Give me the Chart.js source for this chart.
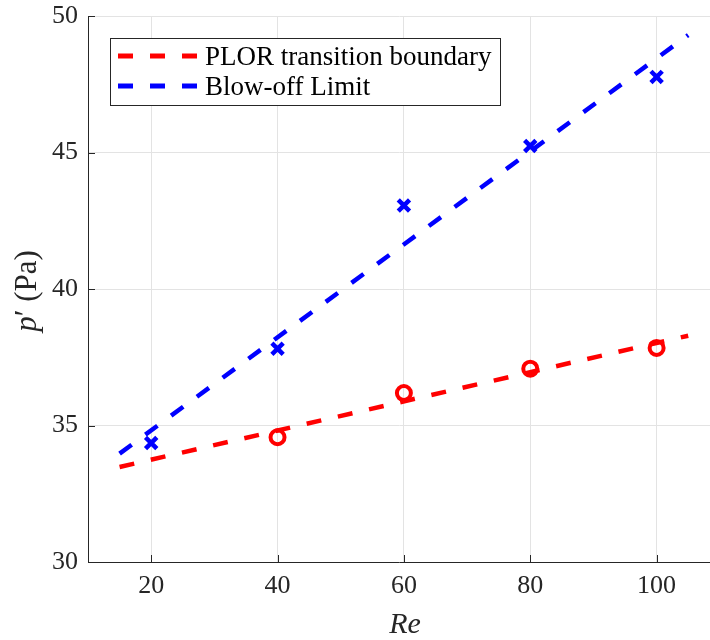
<!DOCTYPE html>
<html>
<head>
<meta charset="utf-8">
<script src="https://cdn.jsdelivr.net/npm/chart.js@4"></script>
<style>
html,body{margin:0;padding:0;background:#fff;}
#wrap{width:710px;height:640px;}
</style>
</head>
<body>
<div id="wrap"><canvas id="c" width="710" height="640"></canvas></div>
<script>
// ---- data ----
const blowRe = [20, 40, 60, 80, 100];
const blowValues = [34.36, 37.81, 43.06, 45.24, 47.77];
const plorRe = [40, 60, 80, 100];
const plorValues = [34.57, 36.19, 37.08, 37.84];
const fitRe = [15, 105];
const plorFit = [33.48, 38.29];
const blowFit = [33.97, 49.30];
const xTicks = [20, 40, 60, 80, 100];
const yTicks = [30, 35, 40, 45, 50];
const seriesLabels = ['PLOR transition boundary', 'Blow-off Limit'];
const xTitle = 'Re';

const SERIF = '"Liberation Serif", "DejaVu Serif", serif';
const AXIS = '#262626';
const RED = '#ff0000';
const BLUE = '#0000ff';

const toPts = (xs, ys) => xs.map((x, i) => ({x: x, y: ys[i]}));

const decor = {
  id: 'decor',
  afterDraw(chart) {
    const ctx = chart.ctx;
    const a = chart.chartArea;
    const xs = chart.scales.x, ys = chart.scales.y;
    ctx.save();
    // inward ticks
    ctx.strokeStyle = AXIS;
    ctx.lineWidth = 1;
    ctx.beginPath();
    yTicks.forEach(v => {
      const y = Math.round(ys.getPixelForValue(v)) + 0.5;
      ctx.moveTo(a.left, y); ctx.lineTo(a.left + 7, y);
    });
    xTicks.forEach(v => {
      const x = Math.round(xs.getPixelForValue(v)) + 0.5;
      ctx.moveTo(x, a.bottom); ctx.lineTo(x, a.bottom - 7);
    });
    ctx.stroke();

    // legend
    const lx = 110.5, ly = 38.5, lw = 390, lh = 67;
    ctx.fillStyle = '#fff';
    ctx.fillRect(lx, ly, lw, lh);
    ctx.strokeStyle = AXIS;
    ctx.lineWidth = 1;
    ctx.strokeRect(lx, ly, lw, lh);
    const rows = [{c: RED, t: seriesLabels[0], y: 56}, {c: BLUE, t: seriesLabels[1], y: 86}];
    rows.forEach(r => {
      ctx.save();
      ctx.strokeStyle = r.c;
      ctx.lineWidth = 5;
      ctx.setLineDash([15, 17]);
      ctx.lineCap = 'butt';
      ctx.beginPath();
      ctx.moveTo(118, r.y); ctx.lineTo(198, r.y);
      ctx.stroke();
      ctx.restore();
      ctx.fillStyle = '#000';
      ctx.font = '27px ' + SERIF;
      ctx.textBaseline = 'alphabetic';
      ctx.textAlign = 'left';
      ctx.fillText(r.t, 205, r.y + 8.5);
    });

    // x title
    ctx.fillStyle = '#262626';
    ctx.font = 'italic 30px ' + SERIF;
    ctx.textAlign = 'center';
    ctx.textBaseline = 'alphabetic';
    ctx.fillText(xTitle, 405, 633);

    // y title: p′ (Pa)
    ctx.save();
    ctx.translate(36, 291);
    ctx.rotate(-Math.PI / 2);
    const f1 = 'italic 31px ' + SERIF, f2 = '31px ' + SERIF;
    ctx.font = f1; const wp = ctx.measureText('p').width;
    ctx.font = f2; const wq = ctx.measureText('\u2032').width;
    const wr = ctx.measureText(' (Pa)').width;
    let x0 = -(wp + wq + wr) / 2;
    ctx.textAlign = 'left';
    ctx.textBaseline = 'alphabetic';
    ctx.font = f1; ctx.fillText('p', x0, 0); x0 += wp;
    ctx.font = f2; ctx.fillText('\u2032', x0, 0); x0 += wq;
    ctx.fillText(' (Pa)', x0, 0);
    ctx.restore();
    ctx.restore();
  }
};

new Chart(document.getElementById('c'), {
  type: 'scatter',
  data: {
    datasets: [
      { label: 'plorPts', data: toPts(plorRe, plorValues), pointStyle: 'circle', pointRadius: 7,
        borderColor: RED, backgroundColor: 'rgba(0,0,0,0)', pointBorderWidth: 4, order: 0 },
      { label: 'blowPts', data: toPts(blowRe, blowValues), pointStyle: 'crossRot', pointRadius: 8,
        borderColor: BLUE, backgroundColor: BLUE, pointBorderWidth: 4.5, order: 0 },
      { label: seriesLabels[0], data: toPts(fitRe, plorFit), showLine: true, pointRadius: 0,
        borderColor: RED, borderWidth: 4.5, borderDash: [15, 17], order: 1 },
      { label: seriesLabels[1], data: toPts(fitRe, blowFit), showLine: true, pointRadius: 0,
        borderColor: BLUE, borderWidth: 4.5, borderDash: [15, 17], order: 1 }
    ]
  },
  options: {
    responsive: false,
    animation: false,
    events: [],
    layout: { autoPadding: false, padding: { top: 16, left: 0, right: 0, bottom: 0 } },
    plugins: { legend: { display: false }, tooltip: { enabled: false } },
    scales: {
      x: {
        type: 'linear', min: 10, max: 108.45,
        afterBuildTicks: s => { s.ticks = xTicks.map(v => ({value: v})); },
        afterFit: s => { s.height = 78; s.paddingLeft = 0; s.paddingRight = 0; },
        grid: { color: '#e3e3e3', drawTicks: false, lineWidth: 1 },
        border: { display: true, color: AXIS, width: 1 },
        ticks: { color: AXIS, font: { family: SERIF, size: 26 }, padding: 9, maxRotation: 0 }
      },
      y: {
        type: 'linear', min: 30, max: 50,
        afterBuildTicks: s => { s.ticks = yTicks.map(v => ({value: v})); },
        afterFit: s => { s.width = 88; s.paddingTop = 0; s.paddingBottom = 0; },
        grid: { color: '#e3e3e3', drawTicks: false, lineWidth: 1 },
        border: { display: true, color: AXIS, width: 1 },
        ticks: { color: AXIS, font: { family: SERIF, size: 26 }, padding: 10 }
      }
    }
  },
  plugins: [decor]
});
</script>
</body>
</html>
